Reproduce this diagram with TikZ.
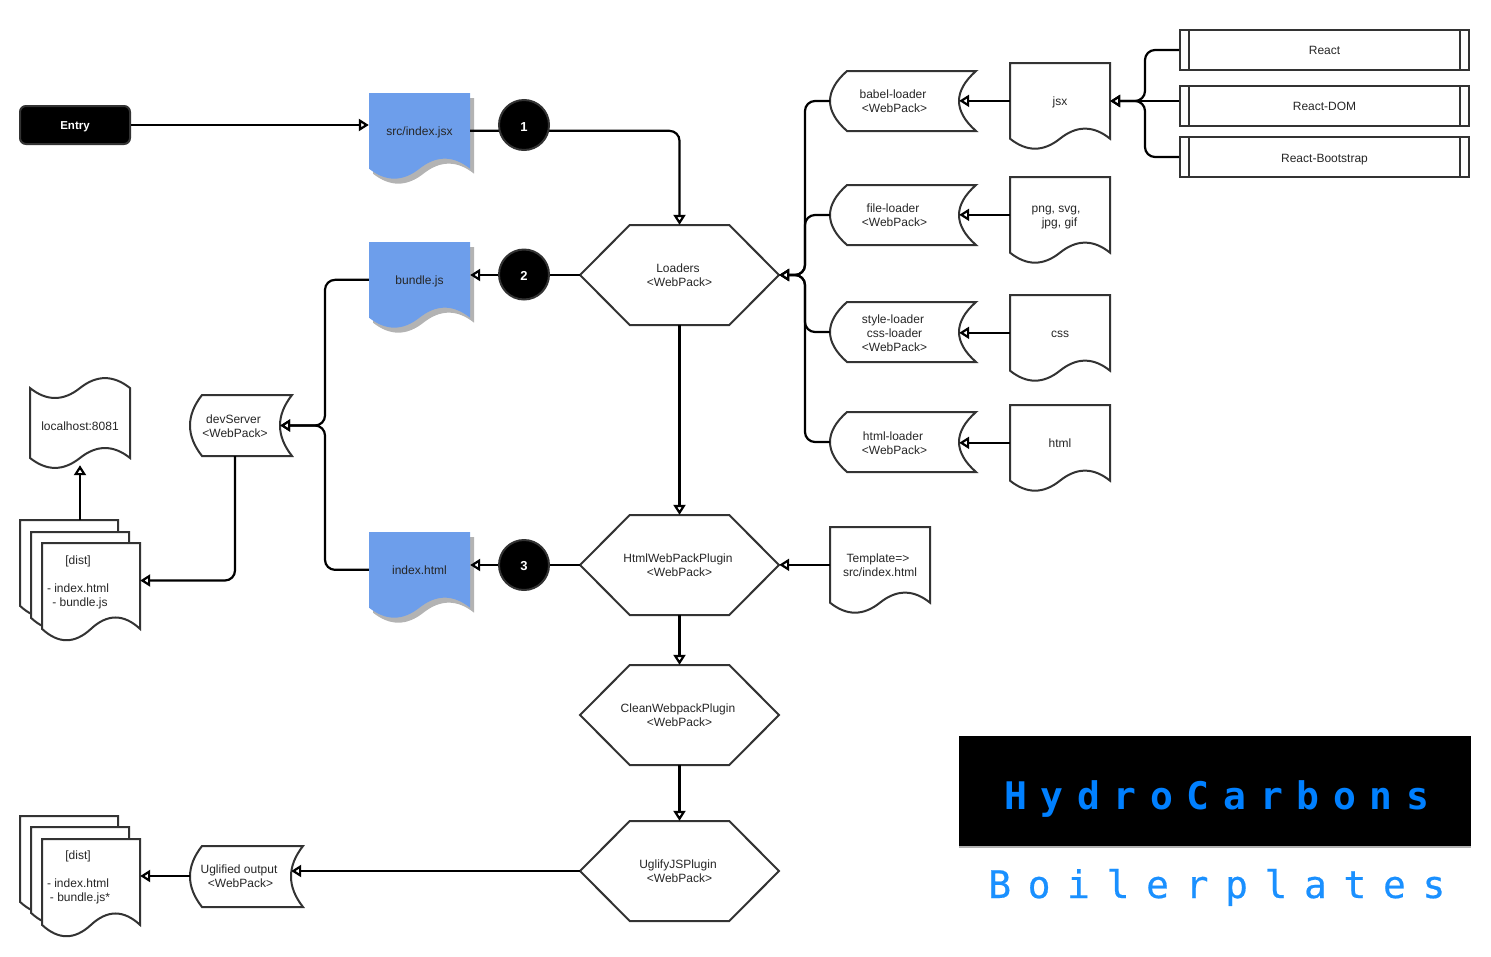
\documentclass[tikz,border=0pt]{standalone}
\usepackage{fontspec}
\setmainfont{Liberation Sans}
\newfontfamily\logofont{DejaVu Sans Mono}
\usetikzlibrary{arrows.meta}
\definecolor{edgegray}{HTML}{333333}
\definecolor{docblue}{HTML}{6D9EEB}
\definecolor{shadowgray}{HTML}{B3B3B3}
\definecolor{logoblue}{HTML}{0080FF}
\definecolor{logoblueb}{HTML}{1A90FF}
\newcommand{\st}{\rule[-3pt]{0pt}{16pt}}
\newcommand{\stp}{\rule[-3pt]{0pt}{14pt}}
\tikzset{
  outlined/.style={draw=edgegray,line width=2pt,fill=white,line join=miter},
  lab/.style={inner sep=0pt,align=center,font=\fontsize{12}{14}\selectfont,text=black!85},
  conn/.style={draw=black,line width=2.2pt,rounded corners=10pt,-{Triangle[length=10pt,width=12pt,fill=white]}},
  badge/.style={circle,draw=edgegray,line width=2pt,fill=black,text=white,minimum size=50pt,inner sep=0pt,font=\fontsize{13}{15}\selectfont\bfseries}
}
% wave path of a document, in unit coordinates
\newcommand{\wavedoc}[5]{\path[#5,shift={(#1,#2)},x=#3pt,y=-#4pt] (0,0) -- (1,0) -- (1,.85)
  .. controls (.8333,.70) and (.6667,.70) .. (.5,.85)
  .. controls (.3333,1.0) and (.1667,1.0) .. (0,.85) -- cycle;}
% name,x,y,w,h,text
\newcommand{\docnode}[6]{\wavedoc{#2}{#3}{#4}{#5}{outlined}
  \node[lab,minimum width=#4pt,minimum height={.85*#5pt}] (#1) at ({#2+#4/2},{#3+.425*#5}) {#6};}
\newcommand{\bluedoc}[6]{\wavedoc{#2+4}{#3+5}{#4}{#5}{fill=shadowgray}
  \wavedoc{#2}{#3}{#4}{#5}{fill=docblue}
  \node[lab,minimum width=#4pt,minimum height={.85*#5pt}] (#1) at ({#2+#4/2},{#3+.425*#5}) {#6};}
% name,x,y,w,h,s,text
\newcommand{\storenode}[7]{\draw[outlined,shift={(#2,#3)}] (#6,0) -- (#4,0)
  .. controls ({#4-1.3333*#6},{#5/3}) and ({#4-1.3333*#6},{2*#5/3}) .. (#4,#5) -- (#6,#5)
  .. controls ({-#6/3},{2*#5/3}) and ({-#6/3},{#5/3}) .. (#6,0) -- cycle;
  \node[lab,minimum width={(#4-#6)*1pt},minimum height=#5pt] (#1) at ({#2+(#4-#6)/2},{#3+#5/2}) {#7};}
% name,x,y,text
\newcommand{\hexnode}[4]{\draw[outlined,shift={(#2,#3)},x=199pt,y=-100pt] (0,.5) -- (.25,0) -- (.75,0) -- (1,.5) -- (.75,1) -- (.25,1) -- cycle;
  \node[lab,minimum width=199pt,minimum height=100pt] (#1) at ({#2+99.5},{#3+50}) {#4};}
% name,y,h,text
\newcommand{\procnode}[4]{\node[lab,draw=edgegray,line width=2pt,minimum width=289pt,minimum height=#3pt] (#1) at (1324.5,{#2+#3/2}) {#4};
  \draw[edgegray,line width=2pt] ([xshift=10pt]#1.north west) -- ([xshift=10pt]#1.south west)
    ([xshift=-10pt]#1.north east) -- ([xshift=-10pt]#1.south east);}
\begin{document}
\begin{tikzpicture}[x=1pt,y=-1pt]
\useasboundingbox (0,0) rectangle (1491,956);
% entry
\node[draw=edgegray,line width=2pt,fill=black,rounded corners=6pt,minimum width=110pt,minimum height=38pt,inner sep=0pt,text=white,font=\fontsize{11.5}{14}\selectfont\bfseries] (entry) at (75,125) {\stp Entry};
% outputs
\bluedoc{src}{369}{93}{101}{89}{\st src/index.jsx}
\bluedoc{bundle}{369}{242}{101}{89}{\st bundle.js}
\bluedoc{index}{369}{532}{101}{89}{\st index.html}
% hexagons
\hexnode{loaders}{580}{225}{Loaders\hspace*{3pt}\\<WebPack>}
\hexnode{htmlplug}{580}{515}{HtmlWebPackPlugin\hspace*{3pt}\\<WebPack>}
\hexnode{clean}{580}{665}{CleanWebpackPlugin\hspace*{3pt}\\<WebPack>}
\hexnode{uglify}{580}{821}{UglifyJSPlugin\hspace*{3pt}\\<WebPack>}
% loaders
\storenode{babel}{830}{71}{146}{60}{17}{babel-loader\hspace*{3pt}\\<WebPack>}
\storenode{file}{830}{185}{146}{60}{17}{file-loader\hspace*{3pt}\\<WebPack>}
\storenode{style}{830}{302}{146}{60}{17}{\rule{0pt}{11pt}style-loader\hspace*{3pt}\\css-loader\hspace*{3pt}\\<WebPack>}
\storenode{html}{830}{412}{146}{60}{17}{\rule{0pt}{11pt}html-loader\hspace*{3pt}\\<WebPack>}
\storenode{dev}{190}{395}{102}{61}{12}{\rule{0pt}{11pt}devServer\hspace*{3pt}\\<WebPack>}
\storenode{ugout}{190}{846}{113}{61}{12}{Uglified output\hspace*{3pt}\\<WebPack>}
% documents
\docnode{jsx}{1010}{63}{100}{89}{\st jsx}
\docnode{png}{1010}{177}{100}{89}{\rule{0pt}{13pt}png, svg,\hspace*{8pt}\\\rule[-3pt]{0pt}{3pt}jpg, gif\hspace*{1pt}}
\docnode{css}{1010}{295}{100}{89}{\st css}
\docnode{htmlf}{1010}{405}{100}{89}{\st html}
\docnode{tmpl}{830}{527}{100}{89}{Template=>\hspace*{4pt}\\src/index.html}
% localhost tape
\draw[outlined,shift={(30,377)},x=100pt,y=-92pt] (0,.12)
  .. controls (.1667,.264) and (.3333,.264) .. (.5,.12)
  .. controls (.6667,-.024) and (.8333,-.024) .. (1,.12) -- (1,.88)
  .. controls (.8333,.736) and (.6667,.736) .. (.5,.88)
  .. controls (.3333,1.024) and (.1667,1.024) .. (0,.88) -- cycle;
\node[lab,minimum width=100pt,minimum height=78pt] (local) at (80,426) {localhost:8081};
% dist stacks
\wavedoc{20}{520}{98}{101}{outlined}
\node[inner sep=0pt,minimum width=98pt,minimum height=86pt] (distback) at (69,563) {};
\wavedoc{31}{532}{98}{101}{outlined}
\wavedoc{42}{543}{98}{101}{outlined}
\node[lab,minimum width=98pt,minimum height=74pt] (dista) at (91,580.5) {\rule{0pt}{13pt}[dist]\hspace*{26pt}\\\mbox{}\\\makebox[88pt][l]{- index.html}\\- bundle.js\hspace*{22pt}};
\wavedoc{20}{816}{98}{101}{outlined}
\wavedoc{31}{827}{98}{101}{outlined}
\wavedoc{42}{839}{98}{101}{outlined}
\node[lab,minimum width=98pt,minimum height=74pt] (distb) at (91,876) {\rule{0pt}{11.5pt}[dist]\hspace*{26pt}\\\mbox{}\\\makebox[88pt][l]{- index.html}\\- bundle.js*\hspace*{22pt}};
% react boxes
\procnode{react}{30}{40}{\stp React}
\procnode{reactdom}{86}{40}{\stp React-DOM}
\procnode{reactbs}{137}{40}{\st React-Bootstrap}
% junctions
\coordinate (busdev) at (325,425.5);
\coordinate (busload) at (805,275);
\coordinate (busreact) at (1145,101);
% connectors
\draw[conn] (entry.east) -- (entry.east -| src.west);
\draw[conn] (src.east) -| (loaders.north);
\draw[conn] (loaders.west) -- (loaders.west -| bundle.east);
\draw[conn] (htmlplug.west) -- (htmlplug.west -| index.east);
\draw[conn] (bundle.west) -| (busdev) -- (busdev -| dev.east);
\draw[conn] (index.west) -| (busdev) -- (busdev -| dev.east);
\draw[conn] (dev.south) |- (dista.east);
\draw[conn] (local.south |- distback.north) -- (local.south);
\draw[conn] (babel.west) -| (busload) -- (loaders.east);
\draw[conn] (file.west) -| (busload) -- (loaders.east);
\draw[conn] (style.west) -| (busload) -- (loaders.east);
\draw[conn] (html.west) -| (busload) -- (loaders.east);
\draw[conn] (jsx.west) -- (jsx.west -| babel.east);
\draw[conn] (png.west) -- (png.west -| file.east);
\draw[conn] (css.west) -- (css.west -| style.east);
\draw[conn] (htmlf.west) -- (htmlf.west -| html.east);
\draw[conn] (react.west) -| (busreact) -- (busreact -| jsx.east);
\draw[conn] (reactdom.west |- busreact) -- (busreact -| jsx.east);
\draw[conn] (reactbs.west) -| (busreact) -- (busreact -| jsx.east);
\draw[conn] (loaders.south) -- (htmlplug.north);
\draw[conn] (tmpl.west) -- (tmpl.west -| htmlplug.east);
\draw[conn] (htmlplug.south) -- (clean.north);
\draw[conn] (clean.south) -- (uglify.north);
\draw[conn] (uglify.west) -- (uglify.west -| ugout.east);
\draw[conn] (ugout.west |- distb.east) -- (distb.east);
% badges
\node[badge] (n1) at (524,125) {\rule{0pt}{12pt}1};
\node[badge] (n2) at (524,274.5) {\rule{0pt}{12pt}2};
\node[badge] (n3) at (524,565) {\rule{0pt}{12pt}3};
% logo
\fill[shadowgray] (959,846) rectangle (1471,847.5);
\node[fill=black,minimum width=512pt,minimum height=110pt,inner sep=0pt] (logobox) at (1215,791) {};
\node[anchor=base west,inner sep=0pt,text=logoblue,font=\fontsize{38}{40}\logofont\bfseries\addfontfeature{LetterSpace=36}] (hc) at (1004,809) {HydroCarbons};
\node[anchor=base west,inner sep=0pt,text=logoblueb,font=\fontsize{38}{40}\logofont\addfontfeature{LetterSpace=43.7,FakeBold=0.5}] (bp) at (988,898) {Boilerplates};
\end{tikzpicture}
\end{document}
